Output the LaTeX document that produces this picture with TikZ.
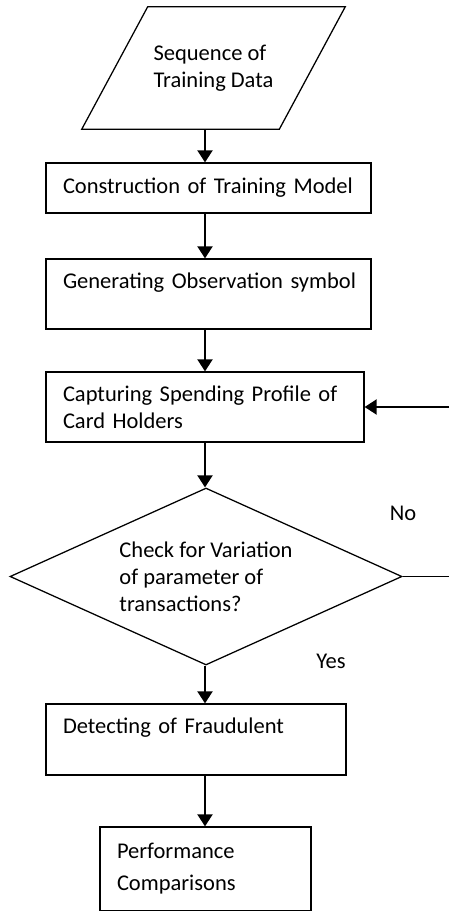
\documentclass[tikz,border=0pt]{standalone}
\usepackage{fontspec}
\setmainfont{Carlito}
\usetikzlibrary{arrows.meta,shapes.geometric}

\begin{document}
\begin{tikzpicture}[>={Triangle[length=0.3cm,width=0.375cm]},
  every node/.style={font=\fontsize{16}{19.2}\selectfont},
  stage/.style={draw,line width=0.9pt,align=left,inner xsep=0.425cm,inner ysep=0pt},
  flow/.style={->,line width=1.4pt}]

\useasboundingbox (0,0) rectangle (11.225,-22.775);

\coordinate (spine) at (5.125,0);
\coordinate (rim) at (11.225,0);

\node[minimum width=6.575cm,minimum height=3.05cm,align=left] (data) at (5.3375,-1.7)
  {Sequence of\\Training Data};
\draw[line width=0.9pt] (data.south west) -- ([xshift=1.65cm]data.north west) -- (data.north east)
  -- ([xshift=-1.65cm]data.south east) -- cycle;

\node[stage,text width=7.275cm,minimum height=1.25cm] (train) at (5.2125,-4.7)
  {Construction of Training Model};
\node[stage,text width=7.275cm,minimum height=1.75cm] (obs) at (5.2125,-7.35)
  {\mbox{Generating Observation symbol}\\\mbox{}};
\node[stage,text width=7.1cm,minimum height=1.75cm] (profile) at (5.125,-10.175)
  {Capturing Spending Profile of\\Card Holders};

\node[draw,line width=0.9pt,diamond,aspect=2.21,minimum width=9.8cm,minimum height=4.425cm,
  inner sep=0pt,align=left] (check) at (5.15,-14.4125)
  {Check for Variation\\of parameter of\\transactions?};

\node[stage,text width=6.65cm,minimum height=1.775cm] (detect) at (4.9,-18.4875)
  {Detecting of Fraudulent\\\mbox{}};
\node[stage,text width=4.425cm,minimum height=2.1cm] (perf) at (5.1375,-21.725)
  {Performance\\[0.125cm]Comparisons};

\node (no) at (10.075,-12.825) {No};
\node (yes) at (8.275,-16.525) {Yes};

\draw[flow] (data.south -| spine) -- (train.north -| spine);
\draw[flow] (train.south -| spine) -- (obs.north -| spine);
\draw[flow] (obs.south -| spine) -- (profile.north -| spine);
\draw[flow] (profile.south -| spine) -- (check.north -| spine);
\draw[flow] (check.south -| spine) -- (detect.north -| spine);
\draw[flow] (detect.south -| spine) -- (perf.north -| spine);

\draw[line width=1.4pt] (check.east) -- (check.east -| rim);
\draw[flow] (profile.east -| rim) -- (profile.east);

\end{tikzpicture}
\end{document}
